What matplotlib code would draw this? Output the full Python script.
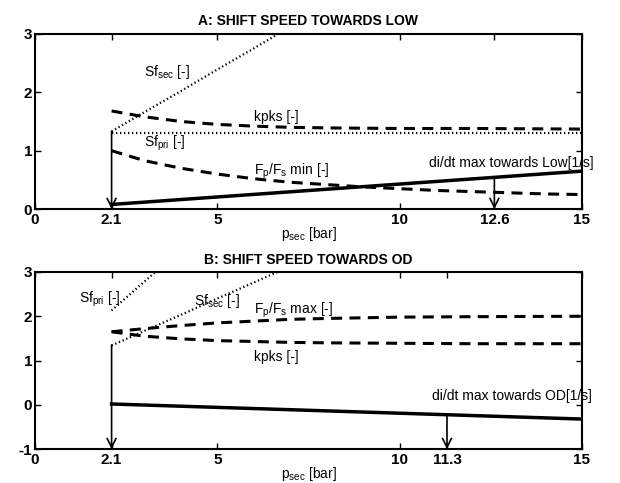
import numpy as np
import matplotlib.pyplot as plt

plt.rcParams['font.family'] = ['Liberation Sans', 'DejaVu Sans']

# panel A: shift speed towards low
xa_sfsec = [2.1, 3, 4, 5, 6, 7]
ya_sfsec = [1.33, 1.66, 2.02, 2.39, 2.75, 3.12]
xa_sfpri = [2.1, 15]
ya_sfpri = [1.30, 1.30]
xa_kpks = [2.1, 3, 4, 5, 6, 7, 8, 10, 12, 15]
ya_kpks = [1.68, 1.58, 1.50, 1.45, 1.42, 1.40, 1.39, 1.38, 1.38, 1.37]
xa_fmin = [2.1, 3, 4, 5, 6, 7, 8, 9, 10, 11, 12, 13, 14, 15]
ya_fmin = [1.0, 0.83, 0.70, 0.60, 0.52, 0.46, 0.42, 0.38, 0.35, 0.32, 0.30, 0.28, 0.26, 0.25]
xa_didt = [2.1, 15]
ya_didt = [0.08, 0.65]
a_arrow_x = [2.1, 12.6]
a_arrow_top = [1.33, 0.54]
a_xticks = [0, 2.1, 5, 10, 12.6, 15]
a_xticklabels = ['0', '2.1', '5', '10', '12.6', '15']

# panel B: shift speed towards OD
xb_sfpri = [2.1, 3.3]
yb_sfpri = [2.13, 3.0]
xb_sfsec = [2.1, 3, 4, 5, 6, 7]
yb_sfsec = [1.34, 1.67, 2.03, 2.40, 2.76, 3.13]
xb_fmax = [2.1, 3, 4, 5, 6, 7, 8, 10, 12, 15]
yb_fmax = [1.65, 1.72, 1.79, 1.85, 1.89, 1.93, 1.95, 1.98, 1.99, 2.0]
xb_kpks = [2.1, 3, 4, 5, 6, 7, 8, 10, 12, 15]
yb_kpks = [1.65, 1.55, 1.49, 1.45, 1.43, 1.41, 1.40, 1.39, 1.38, 1.38]
xb_didt = [2.1, 15]
yb_didt = [0.02, -0.32]
b_arrow_x = [2.1, 11.3]
b_arrow_top = [1.35, -0.22]
b_xticks = [0, 2.1, 5, 10, 11.3, 15]
b_xticklabels = ['0', '2.1', '5', '10', '11.3', '15']

fig = plt.figure(figsize=(6.2, 4.83), dpi=100)
axA = fig.add_axes([0.0565, 0.567, 0.882, 0.363])
axB = fig.add_axes([0.0565, 0.070, 0.882, 0.367])

dash = (0, (3.6, 2.4))
dot = (0, (0.6, 1.2))


def style(ax, xticks, xlabels, yticks, ylim, title):
    ax.set_xlim(0, 15)
    ax.set_ylim(*ylim)
    ax.set_xticks(xticks)
    ax.set_xticklabels(xlabels, fontweight='bold', fontsize=11)
    ax.set_yticks(yticks)
    ax.set_yticklabels([str(t) for t in yticks], fontweight='bold', fontsize=11)
    ax.tick_params(direction='in', top=True, right=True, length=4, width=1)
    ax.tick_params(axis='x', pad=3)
    ax.tick_params(axis='y', pad=2)
    for s in ax.spines.values():
        s.set_linewidth(1.5)
    ax.set_title(title, fontsize=10, fontweight='bold', pad=6)
    ax.set_xlabel('p$_{\\mathregular{sec}}$ [bar]', fontsize=10, labelpad=-2)


def arrows(ax, xs, tops, bottom):
    for x, t in zip(xs, tops):
        ax.annotate('', xy=(x, bottom), xytext=(x, t),
                    arrowprops=dict(arrowstyle='->', lw=1.2, color='black',
                                    mutation_scale=16, shrinkA=0, shrinkB=0))


# A
axA.plot(xa_sfsec, ya_sfsec, color='black', lw=1.6, linestyle=dot)
axA.plot(xa_sfpri, ya_sfpri, color='black', lw=1.6, linestyle=dot)
axA.plot(xa_kpks, ya_kpks, color='black', lw=2.2, linestyle=dash)
axA.plot(xa_fmin, ya_fmin, color='black', lw=2.2, linestyle=dash)
axA.plot(xa_didt, ya_didt, color='black', lw=2.5)
arrows(axA, a_arrow_x, a_arrow_top, 0)
style(axA, a_xticks, a_xticklabels, [0, 1, 2, 3], (0, 3), 'A: SHIFT SPEED TOWARDS LOW')
txt = dict(fontsize=10, va='center', ha='left')
axA.text(3.0, 2.35, 'Sf$_{\\mathregular{sec}}$ [-]', **txt)
axA.text(6.0, 1.58, 'kpks [-]', **txt)
axA.text(3.0, 1.13, 'Sf$_{\\mathregular{pri}}$ [-]', **txt)
axA.text(6.0, 0.64, 'F$_{\\mathregular{p}}$/F$_{\\mathregular{s}}$ min [-]', **txt)
axA.text(10.8, 0.79, 'di/dt max towards Low[1/s]', clip_on=False, **txt)

# B
axB.plot(xb_sfpri, yb_sfpri, color='black', lw=1.6, linestyle=dot)
axB.plot(xb_sfsec, yb_sfsec, color='black', lw=1.6, linestyle=dot)
axB.plot(xb_fmax, yb_fmax, color='black', lw=2.2, linestyle=dash)
axB.plot(xb_kpks, yb_kpks, color='black', lw=2.2, linestyle=dash)
axB.plot(xb_didt, yb_didt, color='black', lw=2.5)
arrows(axB, b_arrow_x, b_arrow_top, -1)
style(axB, b_xticks, b_xticklabels, [-1, 0, 1, 2, 3], (-1, 3), 'B: SHIFT SPEED TOWARDS OD')
axB.text(1.2, 2.38, 'Sf$_{\\mathregular{pri}}$ [-]', **txt)
axB.text(4.35, 2.35, 'Sf$_{\\mathregular{sec}}$ [-]', **txt)
axB.text(6.0, 2.13, 'F$_{\\mathregular{p}}$/F$_{\\mathregular{s}}$ max [-]', **txt)
axB.text(6.0, 1.07, 'kpks [-]', **txt)
axB.text(10.9, 0.2, 'di/dt max towards OD[1/s]', clip_on=False, **txt)

fig.savefig('out.png', dpi=100)
